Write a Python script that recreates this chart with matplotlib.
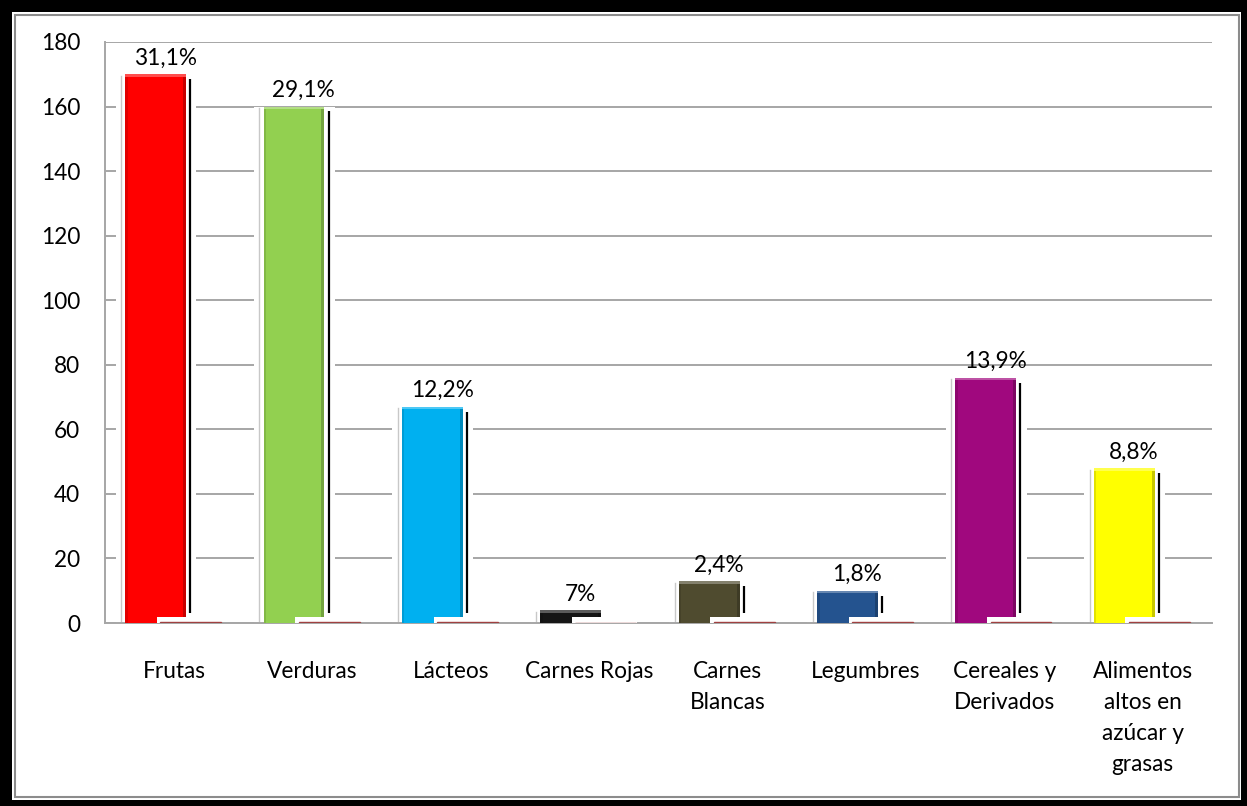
import matplotlib.pyplot as plt
from matplotlib.patches import Rectangle
from matplotlib.colors import to_rgb
import numpy as np

categories = ["Frutas", "Verduras", "Lácteos", "Carnes Rojas", "Carnes\nBlancas",
              "Legumbres", "Cereales y\nDerivados", "Alimentos\naltos en\nazúcar y\ngrasas"]
counts = [170, 160, 67, 4, 13, 10, 76, 48]
pct_labels = ["31,1%", "29,1%", "12,2%", "7%", "2,4%", "1,8%", "13,9%", "8,8%"]
fractions = [0.311, 0.291, 0.122, 0.007, 0.024, 0.018, 0.139, 0.088]
colors = ["#ff0000", "#92d050", "#00b0f0", "#151515", "#4f4b2f",
          "#24538f", "#a0087e", "#ffff00"]
yticks = [0, 20, 40, 60, 80, 100, 120, 140, 160, 180]

plt.rcParams["font.family"] = ["Lato", "DejaVu Sans"]
FS = 16.3

fig = plt.figure(figsize=(12.47, 8.06), dpi=100)
ax = fig.add_axes([0.0842, 0.227, 0.8877, 0.7209])

x = np.arange(len(categories))
w = 0.44
off1, off2 = -0.134, 0.12

for i, v in enumerate(counts):
    xl = x[i] + off1 - w / 2
    # white shadow box that breaks the gridlines
    ax.add_patch(Rectangle((xl - 0.07, 0), w + 0.145, v, facecolor="white",
                           edgecolor="none", zorder=2))
    ax.plot([xl - 0.03, xl - 0.03], [0, v - 0.5], color="#c8c8c8", lw=1, zorder=2.5)
    top = max(v - 1.5, 3)
    ax.plot([xl + w + 0.03] * 2, [3, top], color="black", lw=1.6, zorder=2.5,
            solid_capstyle="butt")

bars = ax.bar(x + off1, counts, width=w, color=colors, zorder=3, linewidth=0)
# bevel: darker sides, softer lighter top rim
for b, c in zip(bars, colors):
    rgb = np.array(to_rgb(c))
    dark = rgb * 0.78
    light = rgb + (1 - rgb) * 0.3
    bx, bw, bh = b.get_x(), b.get_width(), b.get_height()
    ax.add_patch(Rectangle((bx + bw - 0.022, 0), 0.022, bh, facecolor=dark,
                           edgecolor="none", zorder=3.1))
    ax.add_patch(Rectangle((bx, 0), 0.018, bh, facecolor=dark, edgecolor="none",
                           alpha=0.5, zorder=3.1))
    ax.add_patch(Rectangle((bx, bh - 0.8), bw, 0.8, facecolor=light,
                           edgecolor="none", zorder=3.2))

for i, (v, lab) in enumerate(zip(counts, pct_labels)):
    ax.annotate(lab, (x[i] + off1 + 0.07, v), xytext=(0, 4),
                textcoords="offset points", ha="center", va="bottom",
                fontsize=FS, zorder=5)

# second series, nearly flat
for i in range(len(categories)):
    ax.add_patch(Rectangle((x[i] + off2 - w / 2 - 0.025, 0), w + 0.03, 2.0,
                           facecolor="white", edgecolor="none", zorder=4))
ax.bar(x + off2, fractions, width=w, bottom=0.15, color="#c0504d",
       edgecolor="#a04040", linewidth=1, zorder=4.5)

ax.set_xlim(-0.5, 7.5)
ax.set_ylim(0, 180)
ax.set_yticks(yticks)
ax.set_xticks(x)
ax.set_xticklabels(categories, fontsize=FS, linespacing=1.6, va="top")
ax.tick_params(axis="y", length=0, pad=18, labelsize=FS)
ax.tick_params(axis="x", length=0, pad=27)
ax.grid(axis="y", color="#a6a6a6", lw=1.4, zorder=1)
ax.set_axisbelow(True)
for s in ["top", "right"]:
    ax.spines[s].set_visible(False)
for s in ["left", "bottom"]:
    ax.spines[s].set_color("#a6a6a6")
    ax.spines[s].set_linewidth(1.4)

# chart frame: black outer edge (heavier top/left) with a thin grey inner line
W, H = 1247, 806
for (x0, y0, ww, hh) in [(0, 0, 12, H), (0, H - 12, W, 12),
                         (W - 6, 0, 6, H), (0, 0, W, 6)]:
    fig.patches.append(Rectangle((x0 / W, y0 / H), ww / W, hh / H,
                                 transform=fig.transFigure, facecolor="black",
                                 edgecolor="none", zorder=10))
fig.patches.append(Rectangle((15 / W, 9 / H), 1224 / W, 782 / H,
                             transform=fig.transFigure, fill=False,
                             edgecolor="#8c8c8c", lw=1.5, zorder=10))

fig.savefig("out.png", dpi=100)
